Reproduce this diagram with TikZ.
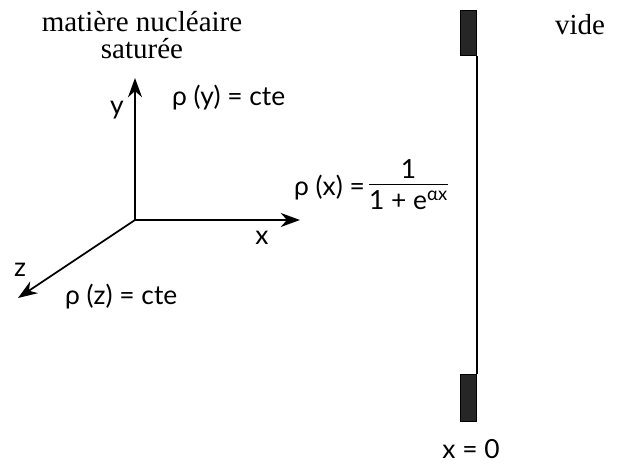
\documentclass[tikz,border=0pt]{standalone}
\usepackage{fontspec}
\usetikzlibrary{arrows.meta}
\setmainfont{Lato}
\newfontfamily\titlefont{Liberation Serif}
\begin{document}
\begin{tikzpicture}[>={Stealth[length=11pt,width=8pt]},x=0.02cm,y=-0.02cm,
  lbl/.style={font=\fontsize{15}{17}\selectfont,inner sep=1pt},
  ttl/.style={font=\titlefont\fontsize{16.5}{15}\selectfont,inner sep=1pt,align=center},
  plaque/.style={draw=black,fill=black!85,line width=0.6pt}]

\useasboundingbox (0,0) rectangle (621,465);

% Axes
\coordinate (O) at (135,220);
\coordinate (Y) at (135,78);
\coordinate (X) at (300,220);
\coordinate (Z) at (18,298);
\draw[->,line width=1pt] (O) -- (Y);
\draw[->,line width=1pt] (O) -- (X);
\draw[->,line width=1pt] (O) -- (Z);

\node[lbl] (ly) at (117,110) {y};
\node[lbl] (lx) at (262,238) {x};
\node[lbl] (lz) at (20,270) {z};

% Densites
\node[lbl,anchor=west] (rhoy) at (170,98) {ρ (y) = cte};
\node[lbl,anchor=west] (rhoz) at (63,297) {ρ (z) = cte};
\node[lbl,anchor=west] (rhox) at (292,188) {ρ (x) =};
\node[lbl,anchor=west] (frac) at (rhox.east)
  {\begin{tabular}{@{}c@{}}1\\[-1.5pt]\hline\rule{0pt}{14pt}1 + e\textsuperscript{αx}\end{tabular}};

% Titres
\node[ttl] (mat) at (142,35) {matière nucléaire\\saturée};
\node[ttl] (vide) at (580,25) {vide};

% Paroi x = 0
\node[plaque,minimum width=0.32cm,minimum height=0.9cm,inner sep=0pt,anchor=north east] (haut) at (477,10) {};
\node[plaque,minimum width=0.32cm,minimum height=0.94cm,inner sep=0pt,anchor=south east] (bas) at (477,422) {};
\draw[line width=1.2pt] (haut.south east) -- (bas.north east);
\node[lbl] (x0) at (471,449) {x = 0};

\end{tikzpicture}
\end{document}
